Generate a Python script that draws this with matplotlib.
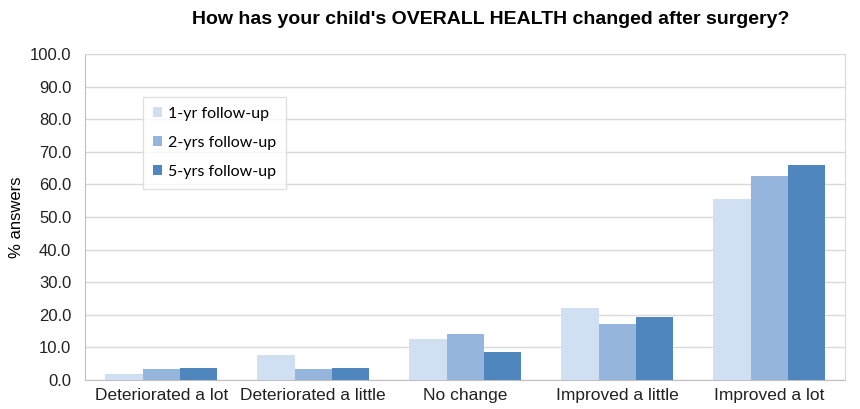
import matplotlib
matplotlib.use("Agg")
import matplotlib.pyplot as plt
import numpy as np

plt.rcParams["font.family"] = ["Liberation Sans", "DejaVu Sans"]

categories = ["Deteriorated a lot", "Deteriorated a little", "No change",
              "Improved a little", "Improved a lot"]
series_names = ["1-yr follow-up", "2-yrs follow-up", "5-yrs follow-up"]
one_year = [1.8, 7.7, 12.6, 22.0, 55.5]
two_years = [3.4, 3.3, 14.1, 17.2, 62.6]
five_years = [3.6, 3.6, 8.6, 19.3, 65.9]
colors = ["#D0DFF1", "#95B5DC", "#4F86BD"]

fig = plt.figure(figsize=(8.6, 4.09), dpi=100)
ax = fig.add_axes([0.099, 0.071, 0.884, 0.797])

x = np.arange(len(categories))
w = 0.245
for i, (vals, name) in enumerate(zip([one_year, two_years, five_years], series_names)):
    ax.bar(x + (i - 1) * w, vals, width=w, color=colors[i], label=name, zorder=3)

ax.set_xlim(-0.5, len(categories) - 0.5)
ax.set_ylim(0, 100)
ax.set_yticks(np.arange(0, 101, 10))
ax.set_yticklabels([f"{v:.1f}" for v in range(0, 101, 10)], fontsize=12)
ax.set_xticks(x)
ax.set_xticklabels(categories, fontsize=12.5)
ax.tick_params(axis="y", length=0, pad=10, colors="#222222")
ax.tick_params(axis="x", length=0, pad=6, colors="#222222")
ax.yaxis.grid(True, color="#D9D9D9", linewidth=1, zorder=0)
ax.set_ylabel("% answers", fontsize=12, labelpad=4)

for side in ["top", "right"]:
    ax.spines[side].set_color("#D9D9D9")
ax.spines["left"].set_color("#BFBFBF")
ax.spines["bottom"].set_color("#BFBFBF")

leg = ax.legend(loc="upper left", bbox_to_anchor=(0.076, 0.868),
                prop={"family": ["Lato", "DejaVu Sans"], "size": 11.5},
                frameon=True, fancybox=False, handlelength=0.6, handleheight=0.6,
                handletextpad=0.35, labelspacing=0.95, borderpad=0.6,
                borderaxespad=0)
leg.get_frame().set_edgecolor("#D9D9D9")
leg.get_frame().set_linewidth(1)

fig.text(0.571, 0.953, "How has your child's OVERALL HEALTH changed after surgery?",
         ha="center", va="center", fontsize=14, fontweight="bold")

fig.savefig("out.png", dpi=100)
